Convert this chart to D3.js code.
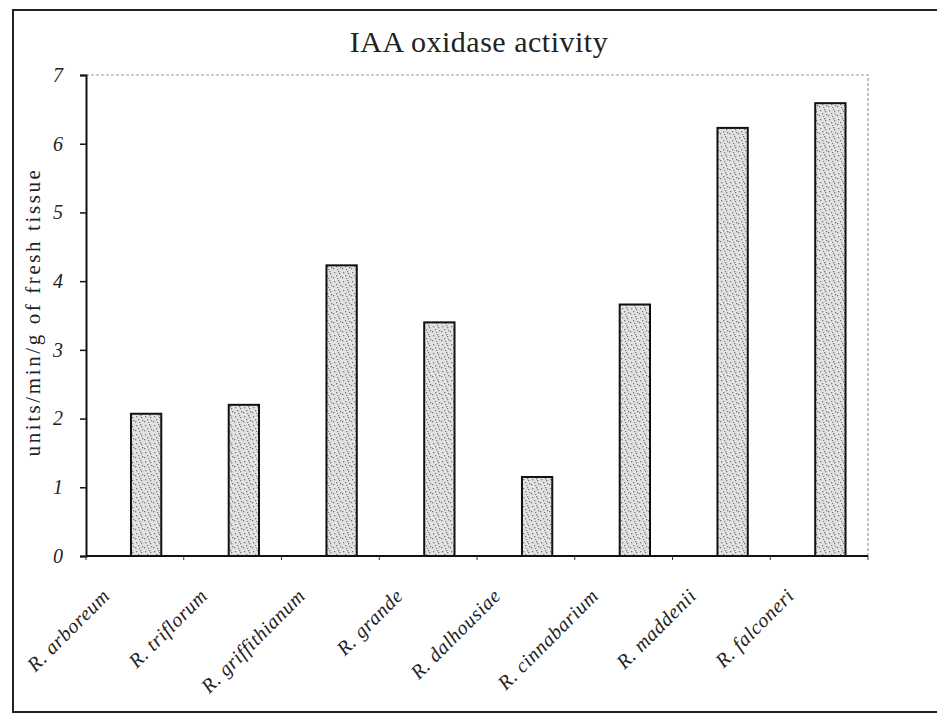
<!DOCTYPE html>
<html>
<head>
<meta charset="utf-8">
<script src="https://cdn.jsdelivr.net/npm/d3@7"></script>
<style>
  body { margin: 0; background: #fff; }
  svg { display: block; }
</style>
</head>
<body>
<svg id="chart" width="937" height="717"></svg>
<script>
// data
let species = ["R. arboreum", "R. triflorum", "R. griffithianum", "R. grande",
  "R. dalhousiae", "R. cinnabarium", "R. maddenii", "R. falconeri"];
let activity = [2.07, 2.2, 4.23, 3.4, 1.15, 3.66, 6.23, 6.59];
let yTicks = [0, 1, 2, 3, 4, 5, 6, 7];

let svg = d3.select("#chart");
let serif = "'Liberation Serif', 'DejaVu Serif', serif";

let plotLeft = 86, plotRight = 868, plotTop = 75, plotBottom = 556;

let x = d3.scaleBand()
  .domain(species)
  .range([plotLeft, plotRight]);

let y = d3.scaleLinear()
  .domain([0, 7])
  .range([plotBottom, plotTop]);

// stipple pattern for the bars
let defs = svg.append("defs");
let pat = defs.append("pattern")
  .attr("id", "stipple")
  .attr("width", 9)
  .attr("height", 9)
  .attr("patternUnits", "userSpaceOnUse");
pat.append("rect").attr("width", 9).attr("height", 9).attr("fill", "#e2e2e2");
[[1, 2], [5, 1], [3, 5], [7, 6], [0, 7], [6, 3], [4, 8]].forEach(function(p) {
  pat.append("rect")
    .attr("x", p[0]).attr("y", p[1])
    .attr("width", 1.3).attr("height", 1.3)
    .attr("fill", "#7a7a7a");
});

// outer frame
svg.append("rect")
  .attr("x", 13).attr("y", 10)
  .attr("width", 940).attr("height", 702)
  .attr("fill", "none")
  .attr("stroke", "#222")
  .attr("stroke-width", 2);

// title
svg.append("text")
  .attr("x", 479)
  .attr("y", 52)
  .attr("text-anchor", "middle")
  .text("IAA oxidase activity")
  .style("font-family", serif)
  .style("font-size", "30px")
  .style("letter-spacing", "0.5px")
  .style("fill", "#222");

// plot area border (dotted, top and right)
svg.append("path")
  .attr("d", "M" + plotLeft + "," + plotTop + "H" + plotRight + "V" + plotBottom)
  .attr("fill", "none")
  .attr("stroke", "#999")
  .attr("stroke-width", 1.2)
  .attr("stroke-dasharray", "3,2");

// bars
let bw = x.bandwidth();
svg.selectAll(".bar")
  .data(activity)
  .enter()
  .append("rect")
  .attr("class", "bar")
  .attr("x", function(d, i) { return x(species[i]) + bw * 0.46; })
  .attr("y", function(d) { return y(d); })
  .attr("width", bw * 0.31)
  .attr("height", function(d) { return y(0) - y(d); })
  .attr("fill", "url(#stipple)")
  .attr("stroke", "#111")
  .attr("stroke-width", 2);

// y axis
let yAxis = svg.append("g")
  .attr("transform", "translate(" + plotLeft + ",0)")
  .call(d3.axisLeft(y).tickValues(yTicks).tickSize(6).tickPadding(17).tickFormat(d3.format("d")));
yAxis.select(".domain").attr("stroke", "#111").attr("stroke-width", 2);
yAxis.selectAll(".tick line").attr("stroke", "#111").attr("stroke-width", 1.5);
yAxis.selectAll("text")
  .style("font-family", serif)
  .style("font-style", "italic")
  .style("font-size", "20px")
  .style("fill", "#222");

// x axis: ticks at category boundaries
let xAxis = svg.append("g")
  .attr("transform", "translate(0," + plotBottom + ")");
xAxis.append("line")
  .attr("x1", plotLeft).attr("x2", plotRight)
  .attr("stroke", "#111").attr("stroke-width", 2);
xAxis.selectAll(".xtick")
  .data(species.concat(["end"]))
  .enter()
  .append("line")
  .attr("x1", function(d, i) { return plotLeft + i * bw; })
  .attr("x2", function(d, i) { return plotLeft + i * bw; })
  .attr("y1", 0).attr("y2", 4)
  .attr("stroke", "#333").attr("stroke-width", 1);

// rotated category labels
svg.selectAll(".xlabel")
  .data(species)
  .enter()
  .append("text")
  .attr("class", "xlabel")
  .attr("transform", function(d) {
    return "translate(" + (x(d) + 25) + "," + 597 + ") rotate(-45)";
  })
  .attr("text-anchor", "end")
  .text(function(d) { return d; })
  .style("font-family", serif)
  .style("font-style", "italic")
  .style("font-size", "20px")
  .style("letter-spacing", "0.6px")
  .style("fill", "#222");

// y axis title
svg.append("text")
  .attr("transform", "translate(40," + 312 + ") rotate(-90)")
  .attr("text-anchor", "middle")
  .text("units/min/g of fresh tissue")
  .style("font-family", serif)
  .style("font-size", "21px")
  .style("letter-spacing", "2.6px")
  .style("fill", "#222");
</script>
</body>
</html>
